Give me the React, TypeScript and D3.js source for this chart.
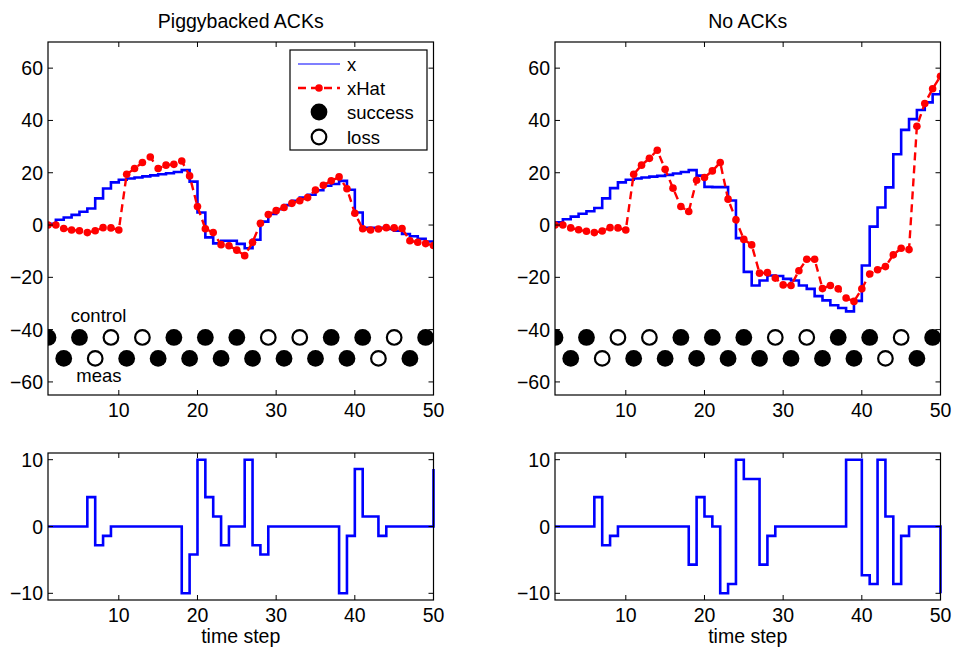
import React from "react";
import * as d3 from "d3";

// ---------- data ----------
const timeSteps = d3.range(1, 51);

const xPiggy = [0.5, 2.0, 2.9, 3.9, 5.1, 6.3, 10.2, 14.0, 16.3, 17.3, 17.8, 18.2, 18.6, 19.0, 19.4, 19.8, 20.3, 21.0, 16.6, 4.8,
  -4.7, -7.0, -6.0, -6.0, -7.2, -8.9, -5.6, 1.3, 4.2, 6.1, 7.6, 9.3, 10.5, 11.6, 13.3, 15.0, 15.7, 16.9, 13.5, 4.8,
  -1.1, -1.1, -1.1, -1.5, -2.2, -3.4, -4.3, -5.3, -6.3, -7.2];
const xHatPiggy = [0, 0, -1.3, -1.9, -2.2, -2.9, -2.2, -1.0, -1.1, -1.9, 19.4, 21.6, 23.9, 26.0, 21.6, 22.9, 23.2, 24.5, 18.8, 7.1,
  -1.4, -2.9, -7.5, -7.9, -9.6, -11.7, -6.6, 0.7, 4.0, 5.5, 6.7, 8.3, 9.3, 10.5, 13.4, 15.2, 16.9, 18.4, 13.9, 4.5,
  -1.4, -1.9, -1.5, -1.0, -1.1, -1.3, -6.0, -6.6, -7.1, -7.8];
const uPiggy = [0, 0, 0, 0, 0, 4.4, -2.8, -1.4, 0, 0, 0, 0, 0, 0, 0, 0, 0, -10, -4.2, 10,
  4.4, 1.5, -2.8, 0, 0, 10, -2.8, -4.2, 0, 0, 0, 0, 0, 0, 0, 0, 0, -10, -1.4, 8.6,
  1.5, 1.5, -1.4, 0, 0, 0, 0, 0, 0, 8.6];

const xNoAck = [1.0, 2.2, 3.2, 4.3, 5.3, 6.5, 10.2, 14.1, 16.3, 17.3, 17.8, 18.2, 18.5, 18.8, 19.2, 19.7, 20.3, 21.0, 18.9, 14.6,
  14.5, 14.5, 9.4, -5.0, -17.9, -23.1, -21.2, -19.3, -19.5, -20.6, -21.2, -23.1, -24.4, -27.2, -28.8, -30.7, -31.7, -33.0, -29.0, -15.5,
  -0.6, 6.7, 14.4, 27.1, 36.4, 40.5, 44.0, 46.9, 50.0, 51.6];
const xHatNoAck = [0, 0, -1.1, -1.8, -2.4, -2.9, -2.3, -1.0, -1.1, -1.9, 19.4, 22.9, 25.5, 28.6, 21.3, 14.1, 7.1, 5.2, 17.1, 18.2,
  20.7, 23.9, 9.9, 2.0, -5.5, -7.6, -18.4, -18.2, -20.3, -22.9, -23.1, -17.5, -13.1, -13.1, -24.3, -23.1, -24.4, -27.9, -29.2, -24.4,
  -18.7, -17.1, -15.9, -11.4, -8.9, -9.4, 37.8, 46.5, 52.1, 56.9];
const uNoAck = [0, 0, 0, 0, 0, 4.4, -2.8, -1.4, 0, 0, 0, 0, 0, 0, 0, 0, 0, -5.7, 4.4, 1.5,
  0, -10, -8.6, 10, 7.1, 7.1, -5.7, -1.4, 0, 0, 0, 0, 0, 0, 0, 0, 0, 10, 10, -7.3,
  -8.6, 10, 1.5, -8.6, -1.4, 0, 0, 0, 0, -10];

const controlTimes = [1, 5, 9, 13, 17, 21, 25, 29, 33, 37, 41, 45, 49];
const controlSuccess = [1, 1, 0, 0, 1, 1, 1, 0, 0, 1, 1, 0, 1];
const measTimes = [3, 7, 11, 15, 19, 23, 27, 31, 35, 39, 43, 47];
const measSuccess = [1, 0, 1, 1, 1, 1, 1, 1, 1, 1, 0, 1];
const controlLevel = -43;
const measLevel = -51;

const xTicks = [10, 20, 30, 40, 50];
const yTicksTop = [-60, -40, -20, 0, 20, 40, 60];
const yTicksBottom = [-10, 0, 10];
const titles = ["Piggybacked ACKs", "No ACKs"];
const legendLabels = ["x", "xHat", "success", "loss"];

// ---------- layout ----------
const W = 954, H = 649;
const FONT = "'Liberation Sans', Arial, Helvetica, sans-serif";
const FS = 19.5;
const BLUE = "#0000ff", RED = "#ff0000";

function minus(v: number) {
  return v < 0 ? "\u2212" + Math.abs(v) : String(v);
}

function Frame({ x, y, xTicksV, yTicksV, tickLen = 5 }: any) {
  const [x0, x1] = x.range();
  const [y0, y1] = y.range(); // y0 bottom, y1 top
  return (
    <g>
      {xTicksV.map((t: number) => (
        <g key={"xt" + t}>
          <line x1={x(t)} x2={x(t)} y1={y0} y2={y0 - tickLen} stroke="#000" />
          <line x1={x(t)} x2={x(t)} y1={y1} y2={y1 + tickLen} stroke="#000" />
        </g>
      ))}
      {yTicksV.map((t: number) => (
        <g key={"yt" + t}>
          <line x1={x0} x2={x0 + tickLen} y1={y(t)} y2={y(t)} stroke="#000" />
          <line x1={x1} x2={x1 - tickLen} y1={y(t)} y2={y(t)} stroke="#000" />
        </g>
      ))}
      <rect x={x0} y={y1} width={x1 - x0} height={y0 - y1} fill="none" stroke="#000" strokeWidth={1.2} />
      {xTicksV.map((t: number) => (
        <text key={"xl" + t} x={x(t)} y={y0 + 22} textAnchor="middle" fontSize={FS} fontFamily={FONT}>{t}</text>
      ))}
      {yTicksV.map((t: number) => (
        <text key={"yl" + t} x={x0 - 5} y={y(t) + 7} textAnchor="end" fontSize={FS} fontFamily={FONT}>{minus(t)}</text>
      ))}
    </g>
  );
}

function TopPanel({ xs, xhat, left, title, showLabels, showLegend }: any) {
  const x = d3.scaleLinear().domain([1, 50]).range([left, left + 385.5]);
  const y = d3.scaleLinear().domain([-65, 70]).range([395, 42]);
  const stairs = d3.line<number>().x((_, i) => x(timeSteps[i])).y((d) => y(d)).curve(d3.curveStepAfter);
  const lin = d3.line<number>().x((_, i) => x(timeSteps[i])).y((d) => y(d));
  const cx = (x(1) + x(50)) / 2;
  return (
    <g>
      <defs>
        <clipPath id={"clip" + left}>
          <rect x={x(1)} y={42} width={385.5} height={353} />
        </clipPath>
      </defs>
      <text x={cx} y={28} textAnchor="middle" fontSize={FS} fontFamily={FONT}>{title}</text>
      <g clipPath={`url(#clip${left})`}>
        <path d={stairs(xs) || ""} fill="none" stroke={BLUE} strokeWidth={2.6} />
        <path d={lin(xhat) || ""} fill="none" stroke={RED} strokeWidth={2.4} strokeDasharray="8,5" />
        {xhat.map((v: number, i: number) => (
          <circle key={i} cx={x(timeSteps[i])} cy={y(v)} r={3.8} fill={RED} />
        ))}
        {controlTimes.map((t, i) => controlSuccess[i] ? (
          <circle key={"c" + i} cx={x(t)} cy={y(controlLevel)} r={8.4} fill="#000" />
        ) : (
          <circle key={"c" + i} cx={x(t)} cy={y(controlLevel)} r={7.3} fill="#fff" stroke="#000" strokeWidth={2.2} />
        ))}
        {measTimes.map((t, i) => measSuccess[i] ? (
          <circle key={"m" + i} cx={x(t)} cy={y(measLevel)} r={8.4} fill="#000" />
        ) : (
          <circle key={"m" + i} cx={x(t)} cy={y(measLevel)} r={7.3} fill="#fff" stroke="#000" strokeWidth={2.2} />
        ))}
      </g>
      {showLabels && (
        <g fontSize={FS - 1} fontFamily={FONT}>
          <text x={x(3.9)} y={y(-37)}>control</text>
          <text x={x(4.6)} y={y(-60)}>meas</text>
        </g>
      )}
      <Frame x={x} y={y} xTicksV={xTicks} yTicksV={yTicksTop} />
      {showLegend && (
        <g fontFamily={FONT} fontSize={FS - 1}>
          <rect x={290} y={50} width={137} height={100} fill="#fff" stroke="#000" strokeWidth={1.2} />
          <line x1={298} x2={340} y1={64} y2={64} stroke={BLUE} strokeWidth={1.2} />
          <line x1={298} x2={340} y1={88} y2={88} stroke={RED} strokeWidth={2.4} strokeDasharray="8,5" />
          <circle cx={319} cy={88} r={3.8} fill={RED} />
          <circle cx={319} cy={112} r={8.4} fill="#000" />
          <circle cx={319} cy={137} r={7.3} fill="#fff" stroke="#000" strokeWidth={2.2} />
          {legendLabels.map((l, i) => (
            <text key={l} x={347} y={[64, 88, 112, 137][i] + 6.5}>{l}</text>
          ))}
        </g>
      )}
    </g>
  );
}

function BottomPanel({ u, left }: any) {
  const x = d3.scaleLinear().domain([1, 50]).range([left, left + 385.5]);
  const y = d3.scaleLinear().domain([-11, 11]).range([600, 453]);
  const stairs = d3.line<number>().x((_, i) => x(timeSteps[i])).y((d) => y(d)).curve(d3.curveStepAfter);
  const cx = (x(1) + x(50)) / 2;
  return (
    <g>
      <path d={stairs(u) || ""} fill="none" stroke={BLUE} strokeWidth={2.6} />
      <Frame x={x} y={y} xTicksV={xTicks} yTicksV={yTicksBottom} />
      <text x={cx} y={643} textAnchor="middle" fontSize={FS} fontFamily={FONT}>time step</text>
    </g>
  );
}

export default function App() {
  return (
    <svg width={W} height={H} style={{ position: "fixed", left: 0, top: 0, background: "#fff" }}>
      <rect width={W} height={H} fill="#fff" />
      <TopPanel xs={xPiggy} xhat={xHatPiggy} left={48} title={titles[0]} showLabels showLegend />
      <TopPanel xs={xNoAck} xhat={xHatNoAck} left={555} title={titles[1]} />
      <BottomPanel u={uPiggy} left={48} />
      <BottomPanel u={uNoAck} left={555} />
    </svg>
  );
}
